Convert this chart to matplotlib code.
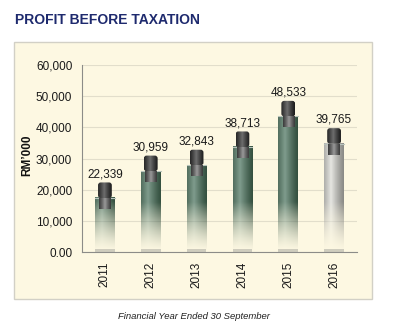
import numpy as np
import matplotlib.pyplot as plt
from matplotlib.colors import to_rgb
from matplotlib.patches import Rectangle, FancyBboxPatch

years = ['2011', '2012', '2013', '2014', '2015', '2016']
profit = [22339, 30959, 32843, 38713, 48533, 39765]
value_labels = ['22,339', '30,959', '32,843', '38,713', '48,533', '39,765']
yticks = [0, 10000, 20000, 30000, 40000, 50000, 60000]
ytick_labels = ['0.00', '10,000', '20,000', '30,000', '40,000', '50,000', '60,000']

# cylinder shading per bar: (edge colour, highlight colour)
body_colors = [('#34503f', '#7f9c8d')] * 5 + [('#8a8a86', '#e6e6e2')]

plt.rcParams['font.family'] = ['Liberation Sans', 'DejaVu Sans']

fig = plt.figure(figsize=(4.0, 3.29), dpi=100)
fig.patch.set_facecolor('white')

# cream panel behind the chart
panel = Rectangle((0.035, 0.091), 0.895, 0.781, transform=fig.transFigure,
                  facecolor='#fdf8e2', edgecolor='#d2d0c6', lw=1.0, zorder=-5)
fig.patches.append(panel)

fig.text(0.037, 0.927, 'PROFIT BEFORE TAXATION', fontsize=10, fontweight='bold',
         color='#1e2a6e', va='baseline')

ax = fig.add_axes([0.205, 0.234, 0.6875, 0.568], zorder=2)
ax.set_facecolor('none')
ax.set_xlim(-0.5, 5.5)
ax.set_ylim(0, 60000)

# data units per pixel, used to keep the rounded cap corners circular
bbox = ax.get_window_extent()
aspect = (60000 / bbox.height) / (6 / bbox.width)


def shade(edge, light, n=64, peak=0.4):
    t = np.linspace(0, 1, n)
    w = np.clip(1 - np.abs(t - peak) / max(peak, 1 - peak), 0, 1) ** 1.2
    e = np.array(to_rgb(edge))
    l = np.array(to_rgb(light))
    return e + (l - e) * w[:, None]


def gradient_image(x0, x1, y0, y1, edge, light, fade=None, peak=0.4, z=3, clip=None):
    rows = 200
    cols = shade(edge, light, peak=peak)
    img = np.ones((rows, len(cols), 4))
    img[:, :, :3] = cols[None, :, :]
    if fade is not None:
        yv = np.linspace(y1, y0, rows)
        img[:, :, 3] = (np.clip(yv / fade, 0, 1) ** 1.4)[:, None]
    im = ax.imshow(img, extent=(x0, x1, y0, y1), aspect='auto',
                   interpolation='bilinear', zorder=z)
    if clip is not None:
        ax.add_patch(clip)
        im.set_clip_path(clip)
    return im


body_w = 0.43
cap_w = 0.30
neck_w = 0.25
cap_h = 5000
neck_h = 3500

for i, (v, lbl) in enumerate(zip(profit, value_labels)):
    edge, light = body_colors[i]
    shoulder = v - cap_h
    # cylinder body fading into the panel near the base
    gradient_image(i - body_w / 2, i + body_w / 2, 0, shoulder, edge, light,
                   fade=16000, peak=0.35, z=3)
    ax.plot([i - body_w / 2, i + body_w / 2], [shoulder, shoulder],
            color='#b9c4bd', lw=0.8, zorder=4)
    # soft grey base under each bar
    ax.add_patch(Rectangle((i - body_w / 2, 0), body_w, 900,
                           facecolor='#9a9a94', alpha=0.45, lw=0, zorder=3))
    # neck between body and cap
    gradient_image(i - neck_w / 2, i + neck_w / 2, shoulder - neck_h, shoulder,
                   '#3c3c3c', '#9a9a9a', peak=0.5, z=5)
    # dark rounded cap
    cap_clip = FancyBboxPatch((i - cap_w / 2, shoulder), cap_w, cap_h,
                              boxstyle='round,pad=0,rounding_size=0.06',
                              mutation_aspect=aspect, transform=ax.transData,
                              facecolor='none', edgecolor='none')
    gradient_image(i - cap_w / 2, i + cap_w / 2, shoulder, v,
                   '#1c1c1c', '#6e6e6e', peak=0.45, z=6, clip=cap_clip)
    ax.text(i, v + 700, lbl, ha='center', va='bottom', fontsize=8.5,
            color='#1a1a1a', zorder=7)

ax.set_xlim(-0.5, 5.5)
ax.set_ylim(0, 60000)
ax.set_yticks(yticks, ytick_labels)
ax.set_xticks(range(len(years)), years, rotation=90)
ax.tick_params(axis='y', length=0, pad=7, labelsize=8.5, colors='#1a1a1a')
ax.tick_params(axis='x', length=0, pad=7, labelsize=8.5, colors='#1a1a1a')
ax.grid(axis='y', color='#e2decb', lw=0.8, zorder=1)
ax.set_axisbelow(True)
for side in ['top', 'right']:
    ax.spines[side].set_visible(False)
for side in ['left', 'bottom']:
    ax.spines[side].set_color('#8c8c88')
    ax.spines[side].set_linewidth(0.8)

fig.text(0.068, 0.529, 'RM’000', rotation=90, fontsize=8.5, fontweight='bold',
         ha='center', va='center', color='#111111')
fig.text(0.485, 0.037, 'Financial Year Ended 30 September', fontsize=6.8,
         style='italic', ha='center', va='center', color='#222222')

fig.savefig('out.png', dpi=100)
